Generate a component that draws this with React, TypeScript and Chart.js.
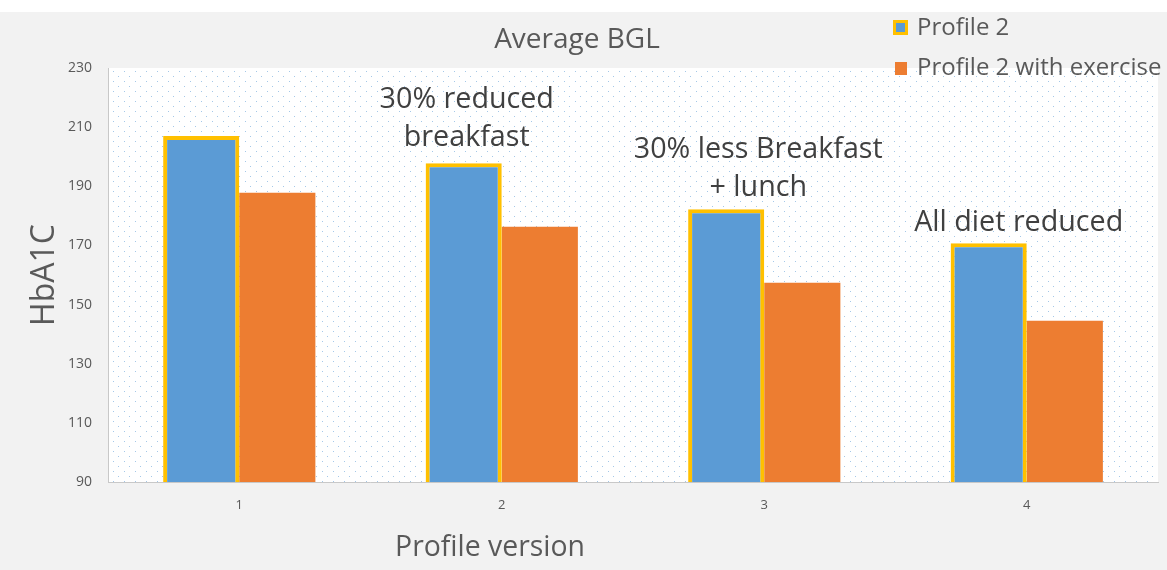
import React, { useEffect, useRef } from "react";
import { Chart, registerables } from "chart.js";

Chart.register(...registerables);

const categories = ["1", "2", "3", "4"];
const profile2 = [207, 197.8, 182.2, 170.7];
const profile2Exercise = [187.8, 176.3, 157.4, 144.5];
const seriesNames = ["Profile 2", "Profile 2 with exercise"];
const yTicks = [90, 110, 130, 150, 170, 190, 210, 230];
const annotationTexts = [
  ["30% reduced", "breakfast"],
  ["30% less Breakfast", "+ lunch"],
  ["All diet reduced"],
];
const chartTitle = "Average BGL";
const xTitle = "Profile version";
const yTitle = "HbA1C";

const FONT = "'Open Sans', 'Noto Sans', sans-serif";
const TEXT = "#595959";
const BLUE = "#5B9BD5";
const ORANGE = "#ED7D31";
const GOLD = "#FFC000";

function makePattern(ctx: CanvasRenderingContext2D) {
  const c = document.createElement("canvas");
  c.width = 11;
  c.height = 10;
  const p = c.getContext("2d")!;
  p.fillStyle = "rgba(91,155,213,0.55)";
  p.fillRect(3, 1, 1, 1);
  p.fillRect(8, 6, 1, 1);
  return ctx.createPattern(c, "repeat");
}

const bgPlugin = {
  id: "bgPlugin",
  beforeDraw(chart: any) {
    const { ctx, chartArea: a, width, height } = chart;
    ctx.save();
    ctx.fillStyle = "#f2f2f2";
    ctx.fillRect(0, 0, width, height);
    ctx.fillStyle = "#ffffff";
    ctx.fillRect(0, 0, width, 12);
    ctx.fillRect(a.left, a.top, a.right - a.left, a.bottom - a.top);
    const pat = makePattern(ctx);
    if (pat) {
      ctx.fillStyle = pat;
      ctx.fillRect(a.left, a.top, a.right - a.left, a.bottom - a.top);
    }
    ctx.restore();
  },
};

// annotation placement (category index, x offset px, y values per line)
const annotationPlacement = [
  { cat: 1, dx: -35, ys: [219.2, 206.4] },
  { cat: 2, dx: -6, ys: [202.5, 189.5] },
  { cat: 3, dx: -8, ys: [177.6] },
];

const textPlugin = {
  id: "textPlugin",
  afterDatasetsDraw(chart: any) {
    const { ctx } = chart;
    const xs = chart.scales.x;
    const ys = chart.scales.y;
    ctx.save();
    ctx.fillStyle = "#404040";
    ctx.font = `28.7px ${FONT}`;
    ctx.textAlign = "center";
    ctx.textBaseline = "middle";
    annotationTexts.forEach((lines, i) => {
      const pl = annotationPlacement[i];
      const x = xs.getPixelForValue(pl.cat) + pl.dx;
      lines.forEach((t, j) => {
        ctx.fillText(t, x, ys.getPixelForValue(pl.ys[j]));
      });
    });
    ctx.restore();
  },
  afterDraw(chart: any) {
    const { ctx } = chart;
    ctx.save();
    ctx.fillStyle = TEXT;
    ctx.textBaseline = "middle";
    // title
    ctx.textAlign = "center";
    ctx.font = `28px ${FONT}`;
    ctx.fillText(chartTitle, 577, 40);
    // x title
    ctx.font = `28.4px ${FONT}`;
    ctx.fillText(xTitle, 490, 548);
    // y title
    ctx.save();
    ctx.translate(45, 275);
    ctx.rotate(-Math.PI / 2);
    ctx.font = `32px ${FONT}`;
    ctx.fillText(yTitle, 0, 0);
    ctx.restore();
    // legend
    ctx.textAlign = "left";
    ctx.font = `24px ${FONT}`;
    ctx.fillStyle = GOLD;
    ctx.fillRect(893, 20, 15, 15);
    ctx.fillStyle = BLUE;
    ctx.fillRect(896, 23, 9, 9);
    ctx.fillStyle = ORANGE;
    ctx.fillRect(895, 62, 12, 13);
    ctx.fillStyle = TEXT;
    ctx.fillText(seriesNames[0], 917, 28);
    ctx.fillText(seriesNames[1], 917, 68);
    ctx.restore();
  },
};

export default function App() {
  const ref = useRef<HTMLCanvasElement | null>(null);
  useEffect(() => {
    document.body.style.margin = "0";
    const chart = new Chart(ref.current!, {
      type: "bar",
      data: {
        labels: categories,
        datasets: [
          {
            label: seriesNames[0],
            data: profile2,
            backgroundColor: BLUE,
            borderColor: GOLD,
            borderWidth: 4,
            borderSkipped: false,
          },
          {
            label: seriesNames[1],
            data: profile2Exercise,
            backgroundColor: ORANGE,
            borderWidth: 0,
          },
        ],
      },
      options: {
        animation: false,
        responsive: false,
        categoryPercentage: 0.58,
        barPercentage: 1.0,
        layout: { padding: { left: 0, top: 68, right: 9, bottom: 0 } },
        plugins: {
          legend: { display: false },
          title: { display: false },
          tooltip: { enabled: false },
        },
        scales: {
          x: {
            grid: { display: false, drawTicks: false },
            border: { display: true, color: "#c8c8c8", width: 1 },
            ticks: {
              color: TEXT,
              font: { family: FONT, size: 13 },
              padding: 15,
            },
            afterFit: (s: any) => {
              s.height = 88;
            },
          },
          y: {
            min: 90,
            max: 230,
            afterBuildTicks: (s: any) => {
              s.ticks = yTicks.map((v) => ({ value: v }));
            },
            grid: { display: false, drawTicks: false },
            border: { display: true, color: "#c8c8c8", width: 1 },
            ticks: {
              color: TEXT,
              font: { family: FONT, size: 14 },
              padding: 16,
            },
            afterFit: (s: any) => {
              s.width = 108;
            },
          },
        },
      },
      plugins: [bgPlugin, textPlugin],
    });
    return () => chart.destroy();
  }, []);
  return (
    <div style={{ position: "absolute", left: 0, top: 0, width: 1167, height: 570 }}>
      <canvas ref={ref} width={1167} height={570} style={{ display: "block" }} />
    </div>
  );
}
